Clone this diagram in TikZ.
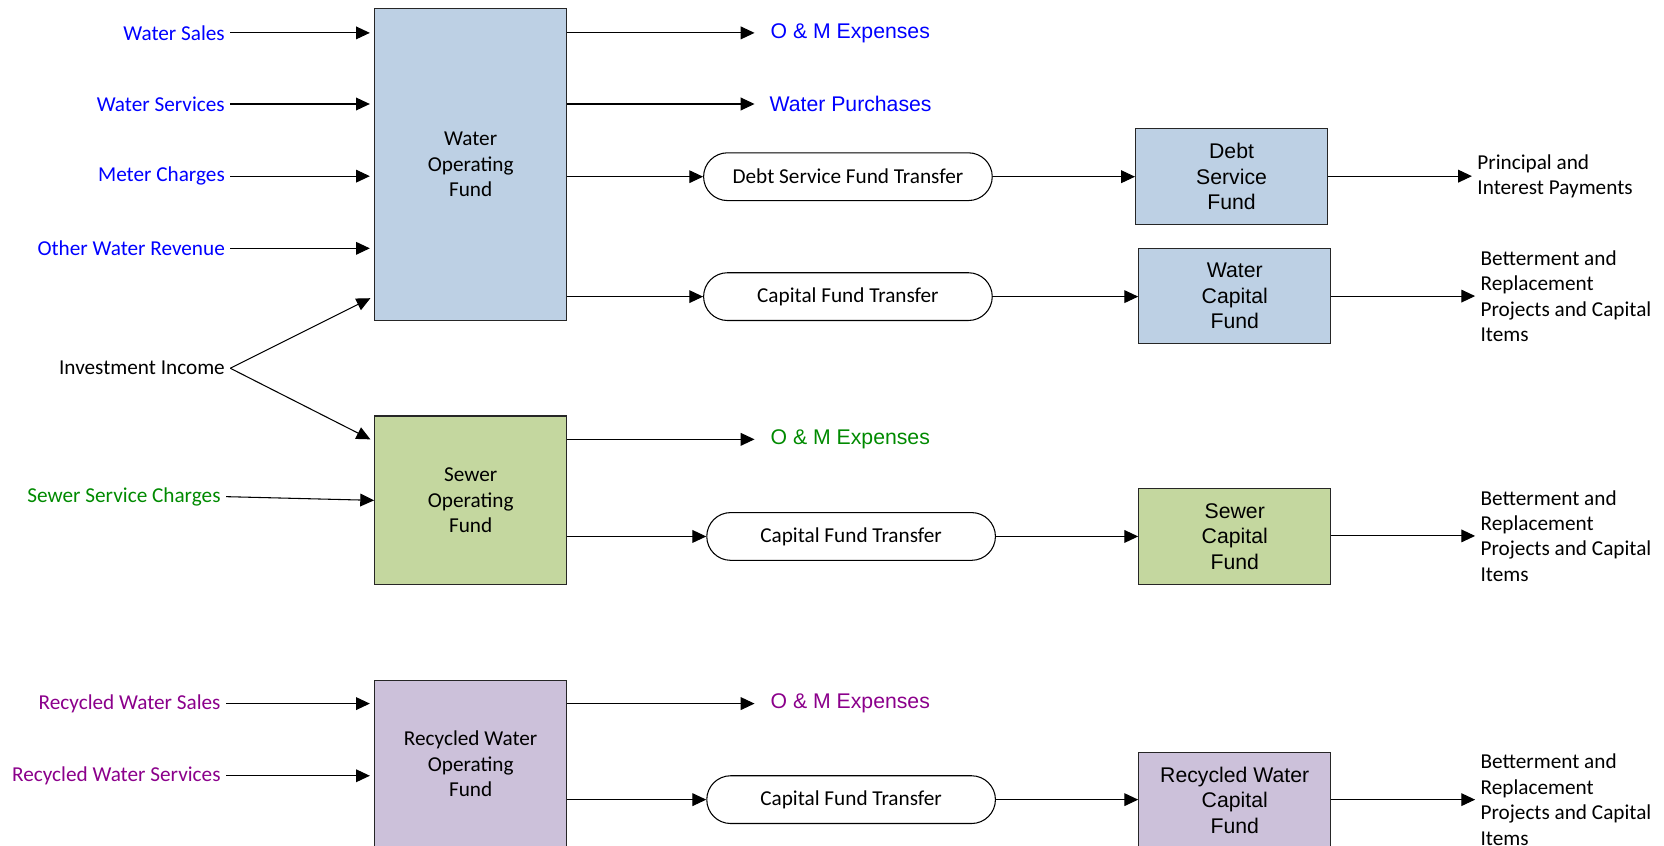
\documentclass[tikz,border=0pt]{standalone}
\usepackage{fontspec}
\setmainfont{Carlito}
\newfontfamily\arialf{Liberation Sans}
\usetikzlibrary{arrows.meta,calc}
\definecolor{wblue}{HTML}{BDD0E4}
\definecolor{sgreen}{HTML}{C4D79F}
\definecolor{rpurple}{HTML}{CCC1DA}
\definecolor{tblue}{HTML}{0000FF}
\definecolor{tgreen}{HTML}{008A00}
\definecolor{tpurple}{HTML}{8B008B}
\begin{document}
\begin{tikzpicture}[x=1pt,y=-1pt, font=\fontsize{20}{24}\selectfont,
  arr/.style={draw, line width=1pt, -{Triangle[length=13pt,width=12pt]}},
  fund/.style={draw=black!85, line width=1pt, align=center, inner sep=0pt, minimum width=181pt},
  afund/.style={fund, font=\arialf\fontsize{20}{24}\selectfont, minimum height=90pt},
  xfer/.style={draw, fill=white, line width=1pt, rounded corners=22.5pt, minimum width=272pt, minimum height=45pt, inner sep=0pt},
  inlbl/.style={anchor=east, inner xsep=5pt, inner ysep=0pt},
  outlbl/.style={anchor=west, inner xsep=15pt, inner ysep=0pt, font=\arialf\fontsize{20}{24}\selectfont},
  res/.style={anchor=west, align=left, inner xsep=5pt, inner ysep=0pt}
]
\useasboundingbox (0,0) rectangle (1568,797);
\clip (0,0) rectangle (1568,797);

% operating funds
\node[fund, fill=wblue, minimum height=294pt] (wof) at (443.5,155) {Water\\Operating\\Fund};
\node[fund, fill=sgreen, minimum height=159pt] (sof) at (443.5,471.5) {Sewer\\Operating\\Fund};
\node[fund, fill=rpurple, minimum height=158pt] (rof) at (443.5,720) {Recycled Water\\Operating\\Fund};

% inputs
\node[inlbl, text=tblue] (ws) at (217,31) {Water Sales};
\node[inlbl, text=tblue] (wsv) at (217,98) {Water Services};
\node[inlbl, text=tblue] (mc) at (217,166) {Meter Charges};
\node[inlbl, text=tblue] (owr) at (217,234) {Other Water Revenue};
\node[inlbl] (ii) at (217,347) {Investment Income};
\node[inlbl, text=tgreen] (ssc) at (213,468) {Sewer Service Charges};
\node[inlbl, text=tpurple] (rws) at (213,663) {Recycled Water Sales};
\node[inlbl, text=tpurple] (rwsv) at (213,731) {Recycled Water Services};

\coordinate (iiw) at (349,281);
\coordinate (iis) at (349,414);

\foreach \n in {ws,wsv,mc,owr}{
  \draw[arr, shorten >=4pt] (\n.east) -- (wof.west |- \n.east);
}
\draw[arr] (ii.east) -- (iiw);
\draw[arr] (ii.east) -- (iis);
\draw[arr] (ssc.east) -- (sof.west);
\foreach \n in {rws,rwsv}{
  \draw[arr, shorten >=4pt] (\n.east) -- (rof.west |- \n.east);
}

% outputs to text
\node[outlbl, text=tblue] (om1) at (711,31) {O \& M Expenses};
\node[outlbl, text=tblue, inner xsep=14pt] (wp) at (711,98) {Water Purchases};
\node[outlbl, text=tgreen] (om2) at (711,414) {O \& M Expenses};
\node[outlbl, text=tpurple] (om3) at (711,663) {O \& M Expenses};
\draw[arr] (wof.east |- om1.west) -- (om1.west);
\draw[arr] (wof.east |- wp.west) -- (wp.west);
\draw[arr] (sof.east |- om2.west) -- (om2.west);
\draw[arr] (rof.east |- om3.west) -- (om3.west);

% transfers
\node[xfer] (dst) at (799,166.5) {Debt Service Fund Transfer};
\node[xfer] (cft1) at (799,279.5) {Capital Fund Transfer};
\node[xfer] (cft2) at (802,505.5) {Capital Fund Transfer};
\node[xfer] (cft3) at (802,753.5) {Capital Fund Transfer};
\draw[arr] (wof.east |- dst.west) -- (dst.west);
\draw[arr] (wof.east |- cft1.west) -- (cft1.west);
\draw[arr] (sof.east |- cft2.west) -- (cft2.west);
\draw[arr] (rof.east |- cft3.west) -- (cft3.west);

% capital / debt funds
\node[afund, fill=wblue] (dsf) at (1160.5,166.5) {Debt\\Service\\Fund};
\node[afund, fill=wblue] (wcf) at (1163.5,279) {Water\\Capital\\Fund};
\node[afund, fill=sgreen, minimum height=91pt] (scf) at (1163.5,505.5) {Sewer\\Capital\\Fund};
\node[afund, fill=rpurple] (rcf) at (1163.5,754) {Recycled Water\\Capital\\Fund};
\draw[arr] (dst.east) -- (dsf.west |- dst.east);
\draw[arr] (cft1.east) -- (wcf.west |- cft1.east);
\draw[arr] (cft2.east) -- (scf.west |- cft2.east);
\draw[arr] (cft3.east) -- (rcf.west |- cft3.east);

% results
\node[res] (pip) at (1387,166) {Principal and\\Interest Payments};
\node[res] (br1) at (1390,279) {Betterment and\\Replacement\\Projects and Capital\\Items};
\node[res] (br2) at (1390,505) {Betterment and\\Replacement\\Projects and Capital\\Items};
\node[res] (br3) at (1390,753.5) {Betterment and\\Replacement\\Projects and Capital\\Items};
\draw[arr] (dsf.east |- pip.west) -- (pip.west);
\draw[arr] (wcf.east |- br1.west) -- (br1.west);
\draw[arr] (scf.east |- br2.west) -- (br2.west);
\draw[arr] (rcf.east |- br3.west) -- (br3.west);
\end{tikzpicture}
\end{document}
